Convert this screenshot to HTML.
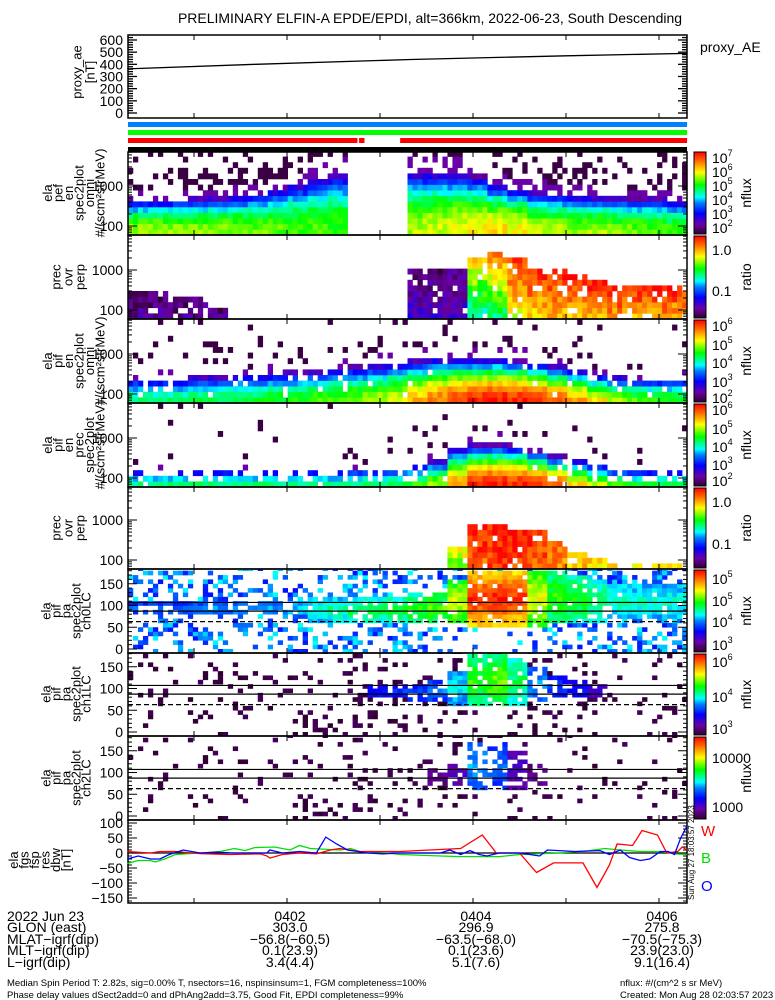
<!DOCTYPE html>
<html><head><meta charset="utf-8"><style>
html,body{margin:0;padding:0;background:#fff;}
svg{display:block;font-family:"Liberation Sans",sans-serif;}
</style></head><body>
<svg id="c" width="775" height="1000" viewBox="0 0 775 1000" xmlns="http://www.w3.org/2000/svg">
<defs>
<linearGradient id="rb" x1="0" y1="1" x2="0" y2="0">
<stop offset="0" stop-color="#300030"/><stop offset="0.12" stop-color="#6a00a8"/><stop offset="0.25" stop-color="#0000ff"/><stop offset="0.38" stop-color="#0080ff"/><stop offset="0.45" stop-color="#00ffff"/><stop offset="0.6" stop-color="#00ff00"/><stop offset="0.75" stop-color="#ffff00"/><stop offset="0.87" stop-color="#ff8000"/><stop offset="1" stop-color="#ff0000"/>
</linearGradient>
</defs>
<text x="430" y="23" text-anchor="middle" font-size="14">PRELIMINARY ELFIN-A EPDE/EPDI, alt=366km, 2022-06-23, South Descending</text>
<g id="layer"></g>
</svg>
<script>
// ---------- data ----------
const aeTimes=[17,100,200,300,378];
const aeValues=[362,400,440,470,490];
// heatmap columns: 28 columns between 17.4s and 378.1s after 04:00
const p2Low=[0.7,0.7,0.69,0.68,0.68,0.67,0.66,0.65,0.64,0.64,0.63,null,null,null,0.7,0.72,0.74,0.76,0.78,0.76,0.72,0.7,0.68,0.7,0.68,0.66,0.64,0.62];
const p2Top=[2.65,2.65,2.67,2.7,2.72,2.76,2.82,2.92,3.05,3.2,3.3,0,0,0,3.35,3.35,3.3,3.25,3.05,2.95,2.85,2.8,2.75,2.75,2.7,2.7,2.7,2.65];
const p2Spk=[0.35,0.35,0.4,0.4,0.4,0.45,0.45,0.45,0.5,0.5,0.5,0,0,0,0.35,0.35,0.35,0.35,0.4,0.4,0.4,0.4,0.4,0.35,0.35,0.35,0.35,0.35];
const p3Bot=[0.1,0.1,0.1,0.1,0.1,0,0,0,0,0,0,0,0,0,0.18,0.15,0.15,0.45,0.5,0.72,0.78,0.8,0.8,0.8,0.82,0.8,0.82,0.8];
const p3TopL=[0.04,0.04,0.04,0.04,0.04,0,0,0,0,0,0,0,0,0,0.05,0.05,0.08,0.8,0.88,0.95,0.97,0.97,0.97,0.97,0.97,0.97,0.97,0.97];
const p3Top=[2.45,2.45,2.4,2.4,2.1,0,0,0,0,0,0,0,0,0,3.0,3.05,3.1,3.35,3.4,3.3,3.1,3.0,2.85,2.7,2.65,2.6,2.6,2.6];
const p4Low=[0.55,0.55,0.55,0.56,0.56,0.57,0.58,0.6,0.62,0.64,0.66,0.68,0.7,0.75,0.82,0.88,0.93,0.97,0.98,0.97,0.95,0.9,0.85,0.78,0.7,0.65,0.62,0.6];
const p4Top=[2.4,2.4,2.4,2.45,2.45,2.5,2.5,2.55,2.55,2.6,2.65,2.7,2.75,2.8,2.85,2.9,2.9,2.9,2.9,2.85,2.8,2.7,2.6,2.5,2.45,2.4,2.4,2.4];
const p4Spk=[0.15,0.15,0.15,0.15,0.18,0.18,0.18,0.18,0.18,0.18,0.18,0.18,0.18,0.18,0.18,0.18,0.15,0.15,0.15,0.15,0.15,0.12,0.12,0.1,0.1,0.1,0.1,0.1];
const p4Hole=[0.3,0.3,0.3,0.3,0.3,0.3,0.25,0.25,0.2,0.2,0.15,0.1,0.1,0.1,0.05,0.05,0.05,0.05,0.05,0.05,0.05,0.1,0.15,0.2,0.3,0.3,0.3,0.3];
const p5Low=[0.55,0.55,0.55,0.55,0.55,0.55,0.55,0.55,0.55,0.55,0.55,0.55,0.55,0.58,0.62,0.7,0.85,0.97,0.98,0.97,0.95,0.9,0.8,0.72,0.64,0.6,0.58,0.58];
const p5Top=[2.2,2.2,2.2,2.2,2.2,2.2,2.2,2.2,2.2,2.2,2.2,2.25,2.25,2.3,2.35,2.45,2.75,2.85,2.85,2.8,2.7,2.55,2.45,2.35,2.25,2.2,2.2,2.2];
const p5Hole=[0.7,0.7,0.7,0.7,0.7,0.7,0.7,0.7,0.7,0.7,0.7,0.65,0.6,0.55,0.5,0.35,0.15,0.05,0.05,0.05,0.1,0.2,0.35,0.5,0.6,0.6,0.6,0.6];
const p6Bot=[0,0,0,0,0,0,0,0,0,0,0,0,0,0,0,0,0.6,0.88,0.93,0.93,0.9,0.85,0.8,0.75,0.75,0.75,0.75,0.75];
const p6TopL=[0,0,0,0,0,0,0,0,0,0,0,0,0,0,0,0,0.8,0.97,0.97,0.97,0.95,0.9,0.85,0.8,0.8,0.8,0.8,0.8];
const p6Top=[0,0,0,0,0,0,0,0,0,0,0,0,0,0,0,0,2.4,2.85,2.85,2.8,2.7,2.5,2.25,2.0,1.95,1.95,1.95,1.95];
const p7Lvl=[0.35,0.35,0.35,0.38,0.38,0.4,0.4,0.4,0.42,0.5,0.52,0.55,0.56,0.58,0.6,0.64,0.72,0.97,0.98,0.95,0.75,0.62,0.6,0.55,0.5,0.48,0.48,0.48];
const p7Lo=[80,80,80,80,80,80,80,80,75,65,65,60,60,60,60,60,60,55,55,55,55,60,60,65,70,70,70,70];
const p7Hi=[105,105,105,105,105,105,105,105,110,115,115,115,120,120,125,130,160,180,180,180,180,180,170,160,150,150,150,150];
const p7Bg=[0.3,0.3,0.3,0.3,0.3,0.3,0.3,0.3,0.3,0.3,0.3,0.35,0.35,0.35,0.35,0.3,0.2,0.1,0.1,0.1,0.2,0.3,0.35,0.4,0.4,0.4,0.4,0.4];
const p8Lvl=[0,0,0,0,0,0,0,0,0,0,0,0,0.25,0.28,0.3,0.35,0.45,0.62,0.66,0.55,0.38,0.28,0.25,0.18,0,0,0,0];
const p8Lo=[0,0,0,0,0,0,0,0,0,0,0,0,80,80,75,75,65,60,60,60,70,80,80,80,0,0,0,0];
const p8Hi=[0,0,0,0,0,0,0,0,0,0,0,0,110,110,110,115,140,180,180,170,150,130,120,110,0,0,0,0];
const p8Bg=[0.1,0.1,0.1,0.1,0.12,0.12,0.12,0.12,0.12,0.12,0.15,0.15,0.15,0.15,0.15,0.15,0.15,0.15,0.15,0.2,0.2,0.2,0.15,0.12,0.1,0.08,0.08,0.08];
const p9Lvl=[0,0,0,0,0,0,0,0,0,0,0,0,0,0,0,0.08,0.12,0.38,0.33,0.14,0.08,0,0,0,0,0,0,0];
const p9Lo=[0,0,0,0,0,0,0,0,0,0,0,0,0,0,0,70,70,60,60,60,70,0,0,0,0,0,0,0];
const p9Hi=[0,0,0,0,0,0,0,0,0,0,0,0,0,0,0,110,120,170,170,150,120,0,0,0,0,0,0,0];
const p9Bg=[0.08,0.08,0.08,0.08,0.08,0.08,0.08,0.08,0.08,0.08,0.08,0.1,0.1,0.1,0.12,0.12,0.15,0.15,0.15,0.15,0.12,0.1,0.08,0.06,0.06,0.06,0.06,0.06];
// fgs residuals (time s after 04:00, nT)
const fgsRedT=[17,32,38,48,64,83,103,107,109,117,128,139,148,154,167,180,193,212,232,246,255,270,281,292,311,320,328,333,343,349,359,365,372,375,378];
const fgsRedV=[5,0,5,5,-2,-5,-3,-10,-17,-5,0,-3,10,15,5,5,5,10,15,60,0,0,-65,-33,-33,-115,-40,30,25,75,60,0,5,20,10];
const fgsBlueT=[17,24,32,38,44,53,64,75,85,107,109,117,128,139,145,152,159,172,182,193,219,225,232,238,244,249,257,270,283,288,306,322,328,335,341,348,354,361,366,370,374,378];
const fgsBlueV=[-20,-10,-20,-20,-5,10,0,3,0,0,10,0,5,0,53,30,10,0,-3,0,0,10,-5,8,-5,-10,0,0,-10,10,5,8,-5,10,-15,-25,-20,5,5,-5,50,90];
const fgsGreenT=[17,24,32,35,41,48,64,77,86,93,99,112,122,128,135,154,161,167,180,193,219,232,257,270,296,315,325,335,348,361,370,378];
const fgsGreenV=[-35,-25,-25,-30,-20,-5,0,5,15,8,18,20,10,25,15,10,15,5,3,-5,-10,-12,-12,-5,0,8,15,10,5,5,-3,-5];
const timeTicks=[60,120,180,240,300,360];
const bottomCols=[["0402","303.0","\u221256.8(\u221260.5)","0.1(23.9)","3.4(4.4)"],["0404","296.9","\u221263.5(\u221268.0)","0.1(23.6)","5.1(7.6)"],["0406","275.8","\u221270.5(\u221275.3)","23.9(23.0)","9.1(16.4)"]];
const bottomColTimes=[120,240,360];

// ---------- helpers ----------
const NS="http://www.w3.org/2000/svg";
const layer=document.getElementById('layer');
const X0=128,X1=687,T0=17.4,T1=378.1;
function xOfT(t){return 287+(t-120)*93/60;}
function mk(tag,attrs,parent){const e=document.createElementNS(NS,tag);for(const k in attrs)e.setAttribute(k,attrs[k]);(parent||layer).appendChild(e);return e;}
function grain(a,b){const s=Math.sin(a*12.9898+b*78.233)*43758.5453;return s-Math.floor(s);}
const stops=[[0,48,0,48],[0.12,106,0,168],[0.25,0,0,255],[0.38,0,128,255],[0.45,0,255,255],[0.6,0,255,0],[0.75,255,255,0],[0.87,255,128,0],[1,255,0,0]];
function cmap(v){v=Math.max(0,Math.min(1,v));for(let i=1;i<stops.length;i++){if(v<=stops[i][0]){const a=stops[i-1],b=stops[i],f=(v-a[0])/(b[0]-a[0]);return 'rgb('+Math.round(a[1]+f*(b[1]-a[1]))+','+Math.round(a[2]+f*(b[2]-a[2]))+','+Math.round(a[3]+f*(b[3]-a[3]))+')';}}return 'rgb(255,0,0)';}
const NC=28,SUB=4;
function colX(i){return xOfT(T0+(T1-T0)*i/NC);}

function frame(y0,y1,name){
  const r=mk('rect',{x:X0,y:y0,width:X1-X0,height:y1-y0,fill:'none',stroke:'#000','stroke-width':1.5});
  
  
  timeTicks.forEach(t=>{const x=xOfT(t);
    mk('line',{x1:x,x2:x,y1:y1,y2:y1-5,stroke:'#000','stroke-width':1});
    mk('line',{x1:x,x2:x,y1:y0,y2:y0+5,stroke:'#000','stroke-width':1});});
}
function leftLabel(lines,xRight,cy,step,name){
  const g=mk('g',{});
  
  
  lines.forEach((s,k)=>{const x=xRight-(lines.length-1-k)*step;
    const t=mk('text',{x:x,y:cy,'font-size':13,'text-anchor':'middle','dominant-baseline':'central',transform:'rotate(-90 '+x+' '+cy+')'},g);
    t.textContent=s;});
}
function ylab(txt,y,name){const t=mk('text',{x:123,y:y+5,'font-size':14,'text-anchor':'end'});t.textContent=txt;
  
  }
function tick(y,len){mk('line',{x1:X0,x2:X0+len,y1:y,y2:y,stroke:'#000','stroke-width':1});mk('line',{x1:X1,x2:X1-len,y1:y,y2:y,stroke:'#000','stroke-width':1});}
function cbar(y0,y1,labels,title,name){
  const r=mk('rect',{x:694,y:y0+1,width:12,height:y1-y0-2,fill:'url(#rb)',stroke:'#000','stroke-width':1});
  
  
  labels.forEach(l=>{const t=mk('text',{x:712,y:l[1]+6,'font-size':14});
    if(l[2]){t.textContent=l[0];const s=mk('tspan',{dy:-7,'font-size':9},t);s.textContent=l[2];}else t.textContent=l[0];
    
    });
  const cy=(y0+y1)/2;const tt=mk('text',{x:746,y:cy,'font-size':14,'text-anchor':'middle','dominant-baseline':'central',transform:'rotate(-90 746 '+cy+')'});tt.textContent=title;
  
  
}
function energyAxis(y0,y1,name){
  const yE=le=>y1-9-(le-2)*40;
  for(let k=1;k<=3;k++)for(let m=1;m<10;m++){const le=k+Math.log10(m);const y=yE(le);if(y>y0&&y<y1)tick(y,m==1?9:4);}
  ylab('1000',yE(3),name+'-tick-1000');ylab('100',yE(2),name+'-tick-100');
  return yE;
}
function cell(x,y,w,h,v,g){mk('rect',{x:x,y:y,width:w+0.3,height:h+0.3,fill:cmap(v)},g);}
function specPanel(y0,y1,low,top,spk,name,isRatio,bot,hole,pw){
  const g=mk('g',{});
  
  
  const yE=le=>y1-9-(le-2)*40;
  const lo=2-9/40, hi=2+(y1-y0-9)/40, st=0.14;
  for(let i=0;i<NC;i++){
    const xa=colX(i),xb=colX(i+1),sw=(xb-xa)/SUB;
    for(let s=0;s<SUB;s++){const x=xa+s*sw;
      for(let le=lo;le<hi-0.01;le+=st){
        const yt=Math.max(y0,yE(le+st)),yb=yE(le);const gr=grain(i*SUB+s,Math.round(le*100)+name.length*13);
        if(!isRatio){
          if(low[i]==null)continue;
          const f=(le+st/2-lo)/(top[i]-lo);
          if(f<=1){ if(hole&&grain(Math.round(le*100),i*SUB+s)<hole[i]*f)continue;
            cell(x,yt,sw,yb-yt,low[i]-Math.pow(f,pw||1.5)*(low[i]-0.12)+(gr-0.5)*0.08,g);}
          else if(gr<spk[i]*Math.max(0.3,1-(f-1)*0.5)){cell(x,yt,sw,yb-yt,0.02+(f<1.25?0.1:0),g);}
        } else {
          if(!top[i])continue;
          const f=(le+st/2-lo)/(top[i]-lo);
          if(f<=1){ if(gr<0.12)continue; cell(x,yt,sw,yb-yt,bot[i]+f*(low[i]-bot[i])+(gr-0.5)*0.15,g);}
        }
      }}
  }
}
function paPanel(y0,y1,lvl,lo,hi,bg,bgLvl,name,bandHole){
  const g=mk('g',{});
  
  
  const yP=p=>y1-4-p*0.435;
  for(let i=0;i<NC;i++){
    const xa=colX(i),xb=colX(i+1),sw=(xb-xa)/SUB;
    for(let s=0;s<SUB;s++){const x=xa+s*sw;
      for(let p=-10;p<182;p+=10){
        const yt=Math.max(y0,yP(p+10)),yb=Math.min(y1,yP(p));const gr=grain(i*SUB+s+name.length*97,p);
        if(lvl[i]>0&&p+5>=lo[i]&&p+5<=hi[i]){ if(gr<(lvl[i]<0.45?bandHole*2:bandHole))continue;
          const mid=(lo[i]+hi[i])/2,half=(hi[i]-lo[i])/2+1;
          cell(x,yt,sw,yb-yt,lvl[i]*(1-0.2*Math.abs(p+5-mid)/half)+(gr-0.5)*0.1,g);}
        else if(gr<bg[i]){cell(x,yt,sw,yb-yt,bgLvl+(grain(p,i*SUB+s)-0.5)*(bgLvl>0.1?0.2:0.05),g);}
      }}
  }
  const lines=[[107,'none'],[87,'none'],[63,'5,3']];
  lines.forEach(l=>{const ln=mk('line',{x1:X0,x2:X1,y1:yP(l[0]),y2:yP(l[0]),stroke:'#000','stroke-width':1.2,'stroke-dasharray':l[1]});
    
    });
  [0,50,100,150].forEach(p=>{ylab(String(p),yP(p),name+'-tick-'+p);});
  for(let p=0;p<=180;p+=10)tick(yP(p),p%50==0?9:4);
}
function polyline(T,V,yf,color,name){
  const pts=T.map((t,k)=>xOfT(t).toFixed(1)+','+yf(V[k]).toFixed(1)).join(' ');
  const p=mk('polyline',{points:pts,fill:'none',stroke:color,'stroke-width':1.3});
  
  
}

// ---------- panel 1: proxy AE ----------
const yAE=v=>113-v*0.1217;
frame(35,118,'proxy-ae-panel');
[0,100,200,300,400,500,600].forEach(v=>ylab(String(v),yAE(v),'proxy-ae-tick-'+v));
for(let v=0;v<=620;v+=20){mk('line',{x1:X0,x2:X0+(v%100==0?9:5),y1:yAE(v),y2:yAE(v),stroke:'#000','stroke-width':1.3});mk('line',{x1:X1,x2:X1-(v%100==0?9:5),y1:yAE(v),y2:yAE(v),stroke:'#000','stroke-width':1.3});}
polyline(aeTimes,aeValues,yAE,'#000','proxy-ae-line');
leftLabel(['proxy_ae','[nT]'],90,72,13,'proxy-ae-axis-title');
{const t=mk('text',{x:700,y:52,'font-size':14});t.textContent='proxy_AE';}
// status bars
[[122,'#0080ff',[[17.4,378.1]],'status-bar-blue'],[130,'#00ff00',[[17.4,378.1]],'status-bar-green'],[138,'#ff0000',[[17.4,165.5],[166.5,170],[193,378.1]],'status-bar-red'],[147,'#000',[[17.4,378.1]],'status-bar-black']].forEach(b=>{
  b[2].forEach(seg=>{const r=mk('rect',{x:xOfT(seg[0]),y:b[0],width:xOfT(seg[1])-xOfT(seg[0]),height:5,fill:b[1]});
    
    });});

// ---------- spectral panels ----------
specPanel(152,235,p2Low,p2Top,p2Spk,'pef-omni',false,null,null,2.3);
energyAxis(152,235,'pef-omni');frame(152,235,'pef-omni-panel');
leftLabel(['ela','pef','en','spec2plot','omni','#/(scm\u00b2strMeV)'],100,193,10.5,'pef-omni-axis-title');
cbar(151,235,[['10',157,'7'],['10',171,'6'],['10',185,'5'],['10',199,'4'],['10',213,'3'],['10',227,'2']],'nflux','pef-omni');

specPanel(235,319,p3TopL,p3Top,null,'pef-prec-ratio',true,p3Bot);
energyAxis(235,319,'pef-prec-ratio');frame(235,319,'pef-prec-ratio-panel');
leftLabel(['prec','ovr','perp'],80,277,12,'pef-ratio-axis-title');
cbar(235,319,[['1.0',249],['0.1',290]],'ratio','pef-ratio');

specPanel(319,403,p4Low,p4Top,p4Spk,'pif-omni',false,null,p4Hole,1.9);
energyAxis(319,403,'pif-omni');frame(319,403,'pif-omni-panel');
leftLabel(['ela','pif','en','spec2plot','omni','#/(scm\u00b2strMeV)'],100,361,10.5,'pif-omni-axis-title');
cbar(319,403,[['10',325,'6'],['10',344,'5'],['10',362,'4'],['10',381,'3'],['10',397,'2']],'nflux','pif-omni');

specPanel(403,487,p5Low,p5Top,p4Spk.map(v=>v*0.4),'pif-prec',false,null,p5Hole,1.8);
energyAxis(403,487,'pif-prec');frame(403,487,'pif-prec-panel');
leftLabel(['ela','pif','en','prec','spec2plot','#/(scm\u00b2strMeV)'],100,445,10.5,'pif-prec-axis-title');
cbar(403,487,[['10',409,'6'],['10',428,'5'],['10',446,'4'],['10',464,'3'],['10',480,'2']],'nflux','pif-prec');

specPanel(487,569,p6TopL,p6Top,null,'pif-prec-ratio',true,p6Bot);
energyAxis(487,569,'pif-prec-ratio');frame(487,569,'pif-prec-ratio-panel');
leftLabel(['prec','ovr','perp'],80,528,12,'pif-ratio-axis-title');
cbar(487,569,[['1.0',501],['0.1',543]],'ratio','pif-ratio');

// ---------- pitch angle panels ----------
paPanel(569,653,p7Lvl,p7Lo,p7Hi,p7Bg,0.36,'pa-ch0',0.12);frame(569,653,'pa-ch0-panel');
leftLabel(['ela','pif','pa','spec2plot','ch0LC'],86,611,10,'pa-ch0-axis-title');
cbar(569,653,[['10',578,'5'],['10',600,'5'],['10',621,'4'],['10',644,'3']],'nflux','pa-ch0');
paPanel(653,736,p8Lvl,p8Lo,p8Hi,p8Bg,0.02,'pa-ch1',0.15);frame(653,736,'pa-ch1-panel');
leftLabel(['ela','pif','pa','spec2plot','ch1LC'],86,694,10,'pa-ch1-axis-title');
cbar(653,736,[['10',661,'6'],['10',696,'4'],['10',728,'3']],'nflux','pa-ch1');
paPanel(736,820,p9Lvl,p9Lo,p9Hi,p9Bg,0.02,'pa-ch2',0.2);frame(736,820,'pa-ch2-panel');
leftLabel(['ela','pif','pa','spec2plot','ch2LC'],86,778,10,'pa-ch2-axis-title');
cbar(736,820,[['10000',757],['1000',806]],'nflux','pa-ch2');

// ---------- fgs panel ----------
const yF=v=>853-v*0.3;
frame(820,903,'fgs-panel');
[100,50,0,-50,-100,-150].forEach(v=>ylab(String(v).replace('-','\u2212'),yF(v),'fgs-tick-'+v));
for(let v=-160;v<=100;v+=10)tick(yF(v),v%50==0?9:4);
{const l=mk('line',{x1:X0,x2:X1,y1:yF(0),y2:yF(0),stroke:'#000','stroke-width':1.3});}
polyline(fgsGreenT,fgsGreenV,yF,'#00e000','fgs-b-line');
polyline(fgsRedT,fgsRedV,yF,'#ff0000','fgs-w-line');
polyline(fgsBlueT,fgsBlueV,yF,'#0000ff','fgs-o-line');
leftLabel(['ela','fgs','fsp','res','dbw','[nT]'],66,860,10.5,'fgs-axis-title');
[['W','#ff0000',836],['B','#00dd00',863],['O','#0000ff',891]].forEach(l=>{const t=mk('text',{x:701,y:l[2],'font-size':15,fill:l[1]});t.textContent=l[0];
  
  });
{const t=mk('text',{x:694,y:900,'font-size':8,transform:'rotate(-90 694 900)'});t.textContent='Sun Aug 27 18:03:57 2023';}

// ---------- bottom annotations ----------
const rowY=[921,932,944,955,967];
['2022 Jun 23','GLON (east)','MLAT\u2212igrf(dip)','MLT\u2212igrf(dip)','L\u2212igrf(dip)'].forEach((s,k)=>{const t=mk('text',{x:7,y:rowY[k],'font-size':14});t.textContent=s;
  
  });
bottomCols.forEach((col,c)=>{col.forEach((s,k)=>{const t=mk('text',{x:xOfT(bottomColTimes[c])+3,y:rowY[k],'font-size':14,'text-anchor':'middle'});t.textContent=s;
  
  });});
[['Median Spin Period T: 2.82s, sig=0.00% T, nsectors=16, nspinsinsum=1, FGM completeness=100%',7,986],['Phase delay values dSect2add=0 and dPhAng2add=3.75, Good Fit, EPDI completeness=99%',7,998],['nflux: #/(cm^2 s sr MeV)',620,986],['Created: Mon Aug 28 02:03:57 2023',620,998]].forEach(f=>{const t=mk('text',{x:f[1],y:f[2],'font-size':9.5});t.textContent=f[0];
  
  });
</script>
</body></html>
